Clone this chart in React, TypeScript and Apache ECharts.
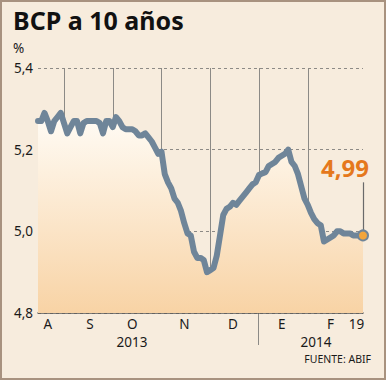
import { useEffect, useRef } from 'react';
import * as echarts from 'echarts';

// BCP 10-year yield, Aug 2013 - Feb 19 2014
const values: number[] = [
  5.27, 5.27, 5.29, 5.27, 5.245, 5.27, 5.28, 5.29,
  5.265, 5.24, 5.255, 5.27, 5.27, 5.24, 5.265, 5.27, 5.27, 5.27, 5.27, 5.265, 5.24, 5.27, 5.27,
  5.255, 5.28, 5.27, 5.255, 5.25, 5.25, 5.25, 5.245, 5.235, 5.235, 5.24, 5.23, 5.22, 5.205, 5.19,
  5.195, 5.14, 5.12, 5.105, 5.08, 5.07, 5.05, 5.02, 4.995, 4.99, 4.95, 4.935, 4.935, 4.93, 4.9,
  4.905, 4.91, 4.94, 4.99, 5.04, 5.055, 5.06, 5.07, 5.065, 5.075, 5.085, 5.095, 5.105, 5.115, 5.12,
  5.138, 5.142, 5.145, 5.16, 5.165, 5.17, 5.18, 5.185, 5.19, 5.2, 5.17, 5.16, 5.14, 5.11, 5.08,
  5.065, 5.045, 5.03, 5.02, 5.015, 4.975, 4.98, 4.985, 4.99, 5.0, 5.0, 4.995, 4.995, 4.995, 4.99, 4.99, 4.99, 4.99,
];
const categories: string[] = values.map((_, i) => String(i));
const monthStartIdx = [8, 23, 38, 53, 68, 83];
const tickLabels = ['A', 'S', 'O', 'N', 'D', 'E', 'F', '19'];
const tickLabelIdx = [3, 16, 29, 45, 60, 75, 90, 98];
const yearLabels = ['2013', '2014'];
const yMin = 4.8;
const yMax = 5.4;
const yStep = 0.2;

const FONT = '"Noto Sans", sans-serif';
const fmt = (v: number, d: number) => v.toFixed(d).replace('.', ',');

export default function App() {
  const ref = useRef<HTMLDivElement>(null);
  useEffect(() => {
    const chart = echarts.init(ref.current!, null, { renderer: 'svg' });
    const lastIdx = values.length - 1;
    const lastVal = values[lastIdx];
    chart.setOption({
      animation: false,
      backgroundColor: '#f7ecdd',
      textStyle: { fontFamily: FONT },
      grid: { left: 38, right: 23, top: 68, bottom: 67, containLabel: false },
      xAxis: {
        type: 'category',
        data: categories,
        boundaryGap: false,
        axisLine: { show: true, lineStyle: { color: '#555', width: 1.5 } },
        axisTick: { show: false },
        axisLabel: {
          interval: (i: number) => tickLabelIdx.includes(i),
          formatter: (_v: string, i: number) => tickLabels[tickLabelIdx.indexOf(i)] ?? '',
          color: '#1a1a1a',
          fontSize: 13.5,
          lineHeight: 14,
          margin: 4,
          fontFamily: FONT,
        },
        splitLine: {
          show: true,
          interval: (i: number) => monthStartIdx.includes(i),
          lineStyle: { color: '#8c8a86', width: 1 },
        },
      },
      yAxis: {
        type: 'value',
        min: yMin,
        max: yMax,
        interval: yStep,
        axisLine: { show: false },
        axisTick: { show: false },
        axisLabel: {
          formatter: (v: number) => fmt(v, 1),
          color: '#1a1a1a',
          fontSize: 13.5,
          margin: 5,
          fontFamily: FONT,
        },
        splitLine: { show: true, lineStyle: { color: '#8d8a86', type: [3, 3], width: 1 } },
      },
      series: [
        {
          type: 'line',
          data: values,
          symbol: 'none',
          lineStyle: { color: '#6f8599', width: 6, join: 'round', cap: 'round' },
          areaStyle: {
            color: new echarts.graphic.LinearGradient(0, 0, 0, 1, [
              { offset: 0, color: '#fffcf6' },
              { offset: 1, color: '#f8d3a5' },
            ]),
            opacity: 1,
          },
          markLine: {
            silent: true,
            symbol: 'none',
            label: { show: false },
            lineStyle: { color: '#6a6a6a', width: 1.2, type: 'solid' },
            data: [[{ coord: [categories[lastIdx], lastVal + 0.013] }, { coord: [categories[lastIdx], lastVal + 0.13] }]],
          },
          markPoint: {
            silent: true,
            data: [
              {
                coord: [categories[lastIdx], lastVal],
                symbol: 'circle',
                symbolSize: 10,
                itemStyle: { color: '#f2a53c', borderColor: '#6f8599', borderWidth: 2 },
                label: {
                  show: true,
                  position: 'inside',
                  offset: [-18, -68],
                  formatter: () => fmt(lastVal, 2),
                  color: '#e5781c',
                  fontSize: 24,
                  fontWeight: 'bold',
                  fontFamily: FONT,
                },
              },
            ],
          },
        },
      ],
      graphic: [
        {
          type: 'rect',
          shape: { x: 1, y: 1, width: 384, height: 378 },
          style: { fill: 'none', stroke: '#a8927f', lineWidth: 2 },
          silent: true,
        },
        {
          type: 'text',
          left: 13,
          top: 7,
          style: { text: 'BCP a 10 años', font: `bold 25px ${FONT}`, fill: '#111' },
        },
        {
          type: 'text',
          x: 13,
          y: 48,
          style: { text: '%', font: `13.5px ${FONT}`, fill: '#1a1a1a', verticalAlign: 'middle' },
        },
        {
          type: 'line',
          shape: { x1: 258.5, y1: 313, x2: 258.5, y2: 345 },
          style: { stroke: '#8c8a86', lineWidth: 1 },
        },
        {
          type: 'text',
          x: 132,
          y: 342,
          style: { text: yearLabels[0], font: `13.5px ${FONT}`, lineHeight: 14, fill: '#1a1a1a', align: 'center', verticalAlign: 'middle' },
        },
        {
          type: 'text',
          x: 316,
          y: 342,
          style: { text: yearLabels[1], font: `13.5px ${FONT}`, lineHeight: 14, fill: '#1a1a1a', align: 'center', verticalAlign: 'middle' },
        },
        {
          type: 'text',
          x: 371,
          y: 359,
          style: { text: 'FUENTE: ABIF', font: `10.5px ${FONT}`, fill: '#1a1a1a', align: 'right', verticalAlign: 'middle' },
        },
      ],
    });
    return () => chart.dispose();
  }, []);
  return <div ref={ref} style={{ position: 'fixed', left: 0, top: 0, width: 386, height: 380 }} />;
}
